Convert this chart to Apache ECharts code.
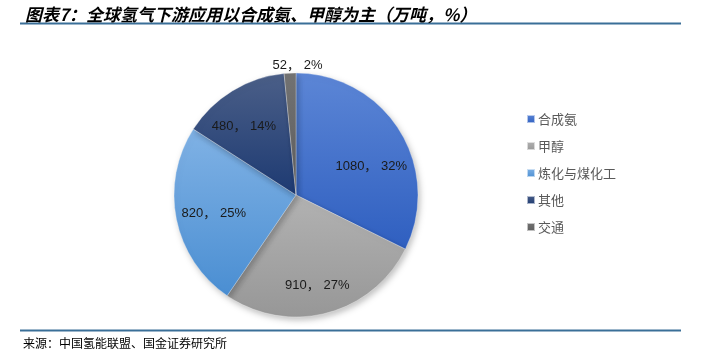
<!DOCTYPE html>
<html>
<head>
<meta charset="utf-8">
<script src="https://cdn.jsdelivr.net/npm/echarts@6/dist/echarts.min.js"></script>
<style>
  html, body { margin: 0; padding: 0; background: #fff; }
  #chart { width: 705px; height: 351px; }
</style>
</head>
<body>
<div id="chart"></div>
<script>
// 全球氢气下游应用（万吨）
var categories = ["合成氨", "甲醇", "炼化与煤化工", "其他", "交通"];
var values = [1080, 910, 820, 480, 52];
var shares = ["32%", "27%", "25%", "14%", "2%"];

// 每块扇区的渐变：上浅下深
var sliceColors = [
  ["#5C86D6", "#2F5FC0"],
  ["#B2B2B2", "#979797"],
  ["#80B2E5", "#4A8ED2"],
  ["#4B5F88", "#1D3A72"],
  ["#737373", "#5E5E5E"]
];
// 标签微调（像 Excel 的"最佳位置"）
var labelNudge = [[-3, 20], [-2, 1], [8, 0], [-4, 10], [8, 3]];

var cx = 296, cy = 195, R = 122;
var font = "'Liberation Sans', 'Noto Sans CJK SC', sans-serif";

function grad(c) {
  return new echarts.graphic.LinearGradient(0, 0, 0, 1, [
    { offset: 0, color: c[0] },
    { offset: 1, color: c[1] }
  ]);
}

var pieData = categories.map(function (name, i) {
  return { name: name, value: values[i], itemStyle: { color: grad(sliceColors[i]) } };
});

// 标签层：透明，只负责把标签放在合适半径
function labelData(outer) {
  return categories.map(function (name, i) {
    var isSmall = i === categories.length - 1;
    return {
      name: name,
      value: values[i],
      label: { show: outer ? isSmall : !isSmall }
    };
  });
}

var labelStyle = {
  position: "inside",
  color: "#1a1a1a",
  fontSize: 13,
  fontFamily: font,
  formatter: function (p) {
    return values[p.dataIndex] + "， " + shares[p.dataIndex];
  }
};

function nudge(params) {
  var n = labelNudge[params.dataIndex];
  return { dx: n[0], dy: n[1] };
}

var chart = echarts.init(document.getElementById("chart"));
chart.setOption({
  animation: false,
  title: {
    text: "图表7：全球氢气下游应用以合成氨、甲醇为主（万吨，%）",
    left: 20,
    top: 1,
    textStyle: {
      fontSize: 17,
      fontStyle: "italic",
      fontWeight: "bold",
      color: "#000",
      fontFamily: "'Noto Sans CJK SC', sans-serif"
    }
  },
  legend: {
    orient: "vertical",
    left: 521,
    top: 107,
    itemWidth: 8,
    itemHeight: 8,
    itemGap: 13,
    icon: "rect",
    data: categories,
    textStyle: {
      fontSize: 13,
      color: "#595959",
      lineHeight: 14,
      padding: [0, 0, 0, -2],
      fontFamily: "'Noto Sans CJK SC', sans-serif"
    }
  },
  graphic: [
    {
      type: "line",
      shape: { x1: 20, y1: 23.5, x2: 681, y2: 23.5 },
      style: { stroke: "#3A6F98", lineWidth: 2 }
    },
    {
      type: "line",
      shape: { x1: 20, y1: 330.5, x2: 681, y2: 330.5 },
      style: { stroke: "#3A6F98", lineWidth: 2 }
    },
    {
      type: "text",
      left: 23,
      top: 337,
      style: {
        text: "来源：中国氢能联盟、国金证券研究所",
        fontSize: 12,
        fill: "#000",
        fontFamily: "'Noto Sans CJK SC', sans-serif"
      }
    }
  ],
  series: [
    {
      name: "main",
      type: "pie",
      center: [cx, cy],
      radius: [0, R],
      startAngle: 90,
      clockwise: true,
      label: { show: false },
      labelLine: { show: false },
      itemStyle: {
        borderColor: "rgba(255,255,255,0.6)",
        borderWidth: 0.5,
        shadowBlur: 6,
        shadowOffsetX: 2,
        shadowOffsetY: 3,
        shadowColor: "rgba(0,0,0,0.25)"
      },
      data: pieData
    },
    {
      name: "labels-in",
      type: "pie",
      silent: true,
      center: [cx, cy],
      radius: [R * 0.46, R],
      startAngle: 90,
      clockwise: true,
      legendHoverLink: false,
      itemStyle: { color: "rgba(0,0,0,0)" },
      label: labelStyle,
      labelLine: { show: false },
      labelLayout: nudge,
      data: labelData(false)
    },
    {
      name: "labels-out",
      type: "pie",
      silent: true,
      center: [cx, cy],
      radius: [R, R * 1.12],
      startAngle: 90,
      clockwise: true,
      legendHoverLink: false,
      itemStyle: { color: "rgba(0,0,0,0)" },
      label: labelStyle,
      labelLine: { show: false },
      labelLayout: nudge,
      data: labelData(true)
    }
  ]
});
</script>
</body>
</html>
